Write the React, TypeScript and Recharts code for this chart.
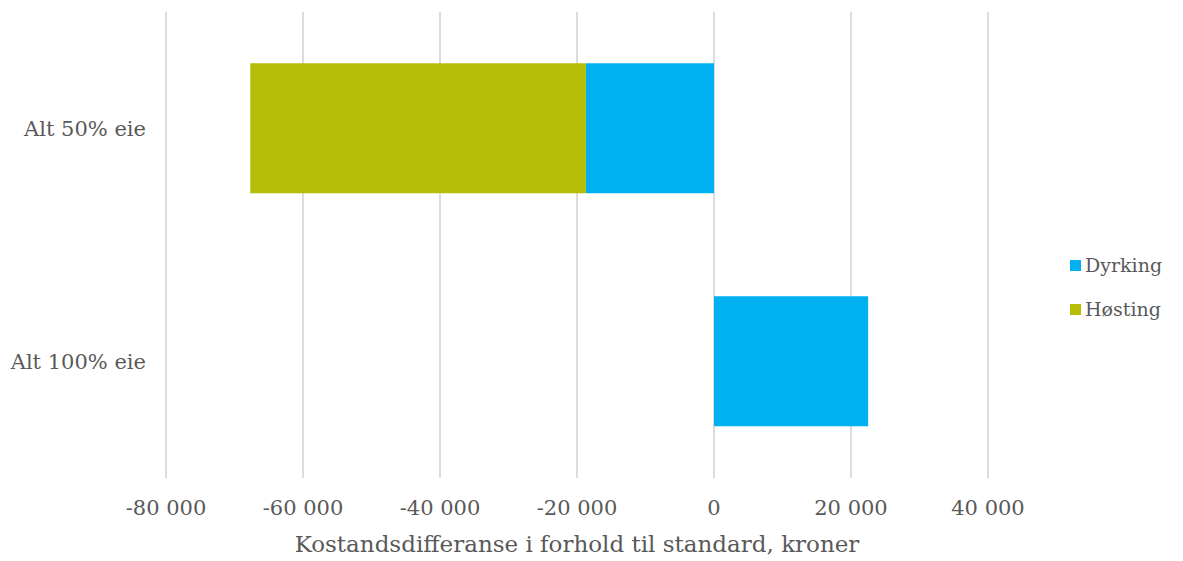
import React from "react";
import { BarChart, Bar, XAxis, YAxis, CartesianGrid } from "recharts";

const categories = ["Alt 50% eie", "Alt 100% eie"];
const dyrking = [-18700, 22500];
const hosting = [-49000, 0];
const xTicks = [-80000, -60000, -40000, -20000, 0, 20000, 40000];
const seriesNames = ["Dyrking", "Høsting"];
const seriesColors = ["#00B0F0", "#B5BD07"];

const data = categories.map((c, i) => ({ name: c, Dyrking: dyrking[i], Høsting: hosting[i] }));

const FONT = "'DejaVu Serif', Georgia, serif";
const TEXT = "#595959";

const fmt = (v: number) => {
  const s = Math.abs(v).toString().replace(/\B(?=(\d{3})+(?!\d))/g, " ");
  return (v < 0 ? "-" : "") + s;
};

export default function App() {
  return (
    <div style={{ position: "fixed", left: 0, top: 0, width: 1183, height: 561, background: "#fff" }}>
      <BarChart
        width={1183}
        height={561}
        data={data}
        layout="vertical"
        stackOffset="sign"
        barCategoryGap="22%"
        margin={{ top: 12, right: 195, bottom: 0, left: 0 }}
      >
        <CartesianGrid horizontal={false} stroke="#d0d0d0" strokeWidth={1.5} />
        <XAxis
          type="number"
          domain={[-80000, 40000]}
          ticks={xTicks}
          tickFormatter={fmt}
          axisLine={false}
          tickLine={false}
          tick={{ fill: TEXT, fontFamily: FONT, fontSize: 21 }}
          tickMargin={16}
          height={83}
          label={{
            value: "Kostandsdifferanse i forhold til standard, kroner",
            position: "insideBottom",
            offset: 9,
            fill: TEXT,
            fontFamily: FONT,
            fontSize: 23,
          }}
        />
        <YAxis
          type="category"
          dataKey="name"
          width={166}
          axisLine={false}
          tickLine={false}
          tickMargin={14}
          tick={{ fill: TEXT, fontFamily: FONT, fontSize: 21 }}
        />
        <Bar dataKey="Dyrking" stackId="a" fill={seriesColors[0]} isAnimationActive={false} />
        <Bar dataKey="Høsting" stackId="a" fill={seriesColors[1]} isAnimationActive={false} />
      </BarChart>
      <div style={{ position: "absolute", left: 1070, top: 243, fontFamily: FONT, color: TEXT, fontSize: 19 }}>
        {seriesNames.map((n, i) => (
          <div key={n} style={{ display: "flex", alignItems: "center", height: 44 }}>
            <span style={{ display: "inline-block", width: 11, height: 11, background: seriesColors[i], marginRight: 4 }} />
            <span>{n}</span>
          </div>
        ))}
      </div>
    </div>
  );
}
